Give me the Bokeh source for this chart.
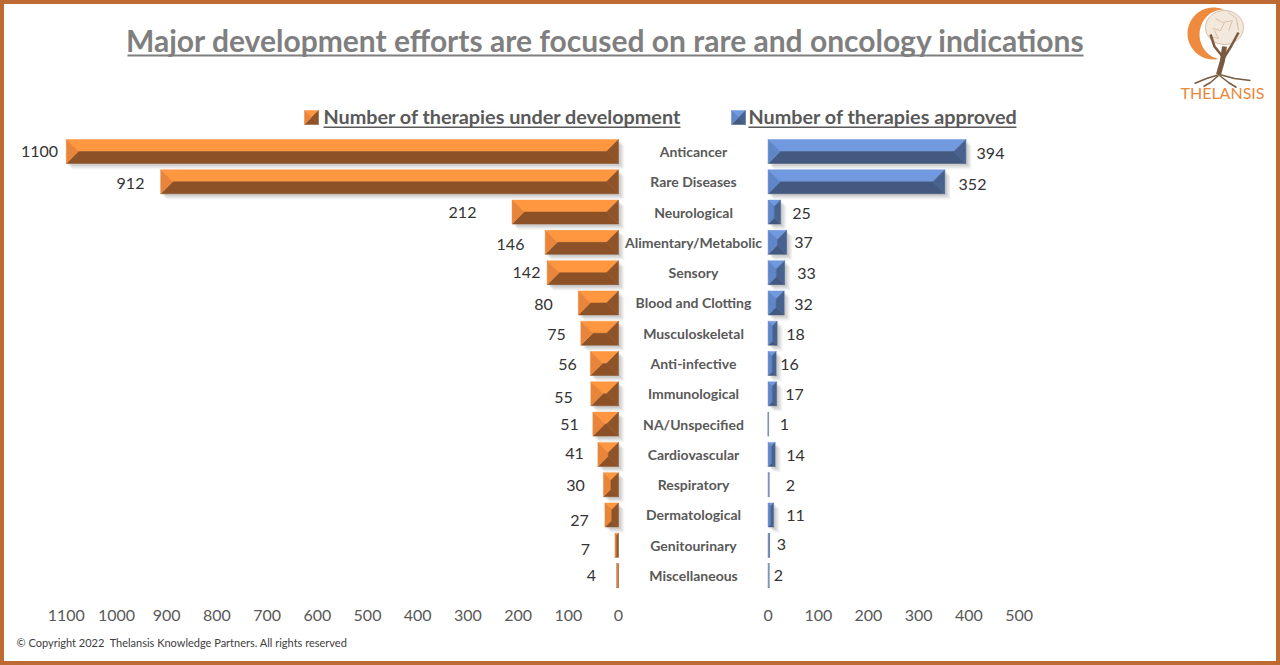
import numpy as np
from bokeh.plotting import figure
from bokeh.models import Range1d, FixedTicker, Label, Title, BoxAnnotation
from bokeh.core.properties import value
from bokeh.embed import file_html
from bokeh.resources import INLINE

categories = ["Anticancer", "Rare Diseases", "Neurological", "Alimentary/Metabolic", "Sensory",
              "Blood and Clotting", "Musculoskeletal", "Anti-infective", "Immunological",
              "NA/Unspecified", "Cardiovascular", "Respiratory", "Dermatological",
              "Genitourinary", "Miscellaneous"]
under_development = [1100, 912, 212, 146, 142, 80, 75, 56, 55, 51, 41, 30, 27, 7, 4]
approved = [394, 352, 25, 37, 33, 32, 18, 16, 17, 1, 14, 2, 11, 3, 2]
left_ticks = [1100, 1000, 900, 800, 700, 600, 500, 400, 300, 200, 100, 0]
right_ticks = [0, 100, 200, 300, 400, 500]
title = "Major development efforts are focused on rare and oncology indications"
legend_dev = "Number of therapies under development"
legend_app = "Number of therapies approved"
copyright_text = "\u00a9 Copyright 2022\u00a0 Thelansis Knowledge Partners. All rights reserved"

# layout of the hand-placed value labels in the reference (page pixels)
left_label_px = [(39,151),(130,183),(462,212),(510,244),(526,272),(543,304),(556,334),(567,364),
                 (563,397),(569,424),(574,453),(575,485),(579,520),(585,549),(591,575)]
right_label_px = [(990,153),(972,184),(801,213),(803,242),(806,273),(803,304),(795,334),(789,364),
                  (794,394),(784,424),(795,455),(790,485),(795,515),(781,544),(778,575)]

W, H = 1280, 665
B = 4              # page border
FRAME_BOTTOM = 600 # page y where the plotting frame ends
SCALE = 0.502      # px per therapy
ZERO = 618         # page x of the left-hand zero
GAP = 298          # therapies of empty space between both zeros
PITCH = 30.29      # px per row
ROW0 = 151
C = "#BE6A33"

def X(px): return (px - ZERO) / SCALE
def Y(py): return (py - ROW0) / PITCH

FONT = "Lato"
p = figure(width=W - 2 * B, height=H - 2 * B, output_backend="svg", toolbar_location=None,
           x_range=Range1d(X(B), X(B + W)), y_range=Range1d(Y(FRAME_BOTTOM), Y(B)),
           y_axis_location=None, min_border_left=0, min_border_right=0, min_border_top=0,
           min_border_bottom=H - (FRAME_BOTTOM - B), margin=(0, 0, 0, 0),
           background_fill_color="white", border_fill_color="white",
           styles={"border": f"{B}px solid {C}", "box-sizing": "content-box"})
p.outline_line_color = None
p.grid.visible = False

ax = p.xaxis[0]
ax.ticker = FixedTicker(ticks=[-t for t in left_ticks] + [t + GAP for t in right_ticks])
ax.major_label_overrides = {**{-t: str(t) for t in left_ticks}, **{t + GAP: str(t) for t in right_ticks}}
ax.axis_line_color = None
ax.major_tick_line_color = None
ax.minor_tick_line_color = None
ax.major_label_standoff = 3
ax.major_label_text_font = FONT
ax.major_label_text_font_size = "16px"
ax.major_label_text_color = "#595959"

p.add_layout(Title(text=copyright_text, align="left", offset=12, standoff=20, text_font=FONT,
                   text_font_size="11px", text_font_style="normal", text_color="#404040"), "below")

HALF = 12 / PITCH      # half bar height, rows
INSET = 12             # px

ORANGE = dict(top="#FF9640", bottom="#8C5127", left="#E9853A", right="#8F5328")
BLUE = dict(top="#7099DF", bottom="#43597F", left="#5F86C8", right="#47628F")

def bevel(x0, x1, yc, half, cols, xs, ys, cs):
    """four facets of a bevelled box; x in data units, y in row units"""
    w_px = abs(x1 - x0) * SCALE
    ipx = min(INSET * (half / HALF), w_px / 2)
    ix, iy = ipx / SCALE, ipx / PITCH
    t, b = yc - half, yc + half
    polys = [
        ([x0, x1, x1 - ix, x0 + ix], [t, t, t + iy, t + iy], cols["top"]),
        ([x0, x1, x1 - ix, x0 + ix], [b, b, b - iy, b - iy], cols["bottom"]),
        ([x0, x0 + ix, x0 + ix, x0], [t, t + iy, b - iy, b], cols["left"]),
        ([x1, x1 - ix, x1 - ix, x1], [t, t + iy, b - iy, b], cols["right"]),
    ]
    for a, c, col in polys:
        xs.append(a); ys.append(c); cs.append(col)

def shadow(x0, x1, yc, half):
    for off, alpha in ((6, 0.04), (5, 0.05), (4, 0.07), (3, 0.08), (2, 0.09)):
        p.quad(left=x0 + off / SCALE, right=x1 + off / SCALE,
               top=yc - half + off / PITCH, bottom=yc + half + off / PITCH,
               fill_color="#555555", fill_alpha=alpha, line_color=None)

xs, ys, cs = [], [], []
for i, (d, a) in enumerate(zip(under_development, approved)):
    if d > 10:
        shadow(-d, 0, i, HALF)
    if a > 5:
        shadow(GAP, GAP + a, i, HALF)
    bevel(-d, 0, i, HALF, ORANGE, xs, ys, cs)
    bevel(GAP, GAP + a, i, HALF, BLUE, xs, ys, cs)

# legend swatches
def swatch(px0, cols):
    bevel(X(px0), X(px0 + 14), Y(117), 7 / PITCH, cols, xs, ys, cs)
swatch(304, ORANGE)
swatch(731, BLUE)

p.patches(xs, ys, fill_color=cs, line_color=cs, line_width=0.5)

# thin bars need a visible hairline
for i, (d, a) in enumerate(zip(under_development, approved)):
    if d <= 4:
        p.segment(-d/2, i - HALF, -d/2, i + HALF, line_color="#C98A5E", line_width=1.2)
    if a <= 3:
        p.segment(GAP + a/2, i - HALF, GAP + a/2, i + HALF, line_color="#8095BC", line_width=1.2)

# category labels and value labels
p.text(x=[X(693)] * len(categories), y=list(range(len(categories))), text=categories,
       text_font=value(FONT), text_font_style="bold", text_font_size="14px",
       text_color="#595959", text_align="center", text_baseline="middle")
p.text(x=[X(c[0]) for c in left_label_px], y=[Y(c[1]) for c in left_label_px],
       text=[str(v) for v in under_development], text_font=value(FONT), text_font_size="16px",
       text_color="#333333", text_align="center", text_baseline="middle")
p.text(x=[X(c[0]) for c in right_label_px], y=[Y(c[1]) for c in right_label_px],
       text=[str(v) for v in approved], text_font=value(FONT), text_font_size="16px",
       text_color="#333333", text_align="center", text_baseline="middle")

def label(txt, px, py, size, color, bold=False, align="left"):
    p.add_layout(Label(x=px - 2 * B, y=py - 2 * B, x_units="canvas", y_units="canvas", text=txt, text_font=FONT,
                       text_font_size=size, text_color=color,
                       text_font_style="bold" if bold else "normal",
                       text_align=align, text_baseline="middle"))

def bar(px0, px1, py0, py1, color):
    p.add_layout(BoxAnnotation(left=px0 - 2 * B, right=px1 - 2 * B, top=py0 - 2 * B, bottom=py1 - 2 * B,
                               left_units="canvas", right_units="canvas",
                               top_units="canvas", bottom_units="canvas",
                               fill_color=color, fill_alpha=1, line_color=None, level="overlay"))

label(title, 605, 39.5, "30px", "#7F7F7F", True, "center")
bar(127, 1083, 54, 56, "#7F7F7F")
label(legend_dev, 323, 115.5, "19.8px", "#595959", True)
bar(323, 680, 126, 127.5, "#595959")
label(legend_app, 748, 115.5, "19.8px", "#595959", True)
bar(748, 1016, 126, 127.5, "#595959")

# logo
def blob(cx, cy, rx, ry, **kw):
    t = np.linspace(0, 2 * np.pi, 60)
    p.patch(X(cx + rx * np.cos(t)), Y(cy + ry * np.sin(t)), **kw)

blob(1213, 33, 26, 26, fill_color="#EE8B3F", line_color=None)
blob(1223, 34, 24, 25, fill_color="#FFFFFF", line_color=None)
blob(1224, 27, 19, 17, fill_color="#F3E8DC", line_color="#D9BFA6", line_width=1)
def logo_lines(xx, yy, widths, color):
    p.multi_line([X(np.array(a, float)).tolist() for a in xx],
                 [Y(np.array(a, float)).tolist() for a in yy],
                 line_color=color, line_width=widths)
logo_lines([[1215, 1222, 1232, 1228], [1212, 1220, 1224], [1228, 1236, 1238], [1210, 1218, 1214]],
           [[18, 22, 20, 30], [28, 30, 22], [12, 18, 30], [36, 38, 30]],
           [1, 1, 1, 1], "#D9BFA6")
logo_lines([[1224, 1222, 1218], [1222, 1214, 1210], [1223, 1231, 1238], [1219, 1206, 1194],
            [1219, 1234, 1250], [1218, 1210, 1203], [1219, 1228, 1236]],
           [[46, 60, 74], [56, 46, 34], [58, 45, 32], [74, 78, 83], [74, 78, 80], [75, 82, 86], [75, 82, 87]],
           [5, 2.5, 2.5, 1.5, 1.5, 1.5, 1.5], "#7A5A3E")
label("THELANSIS", 1222, 92, "16px", "#E8883C", False, "center")

open("out.html", "w").write(file_html(p, INLINE))
